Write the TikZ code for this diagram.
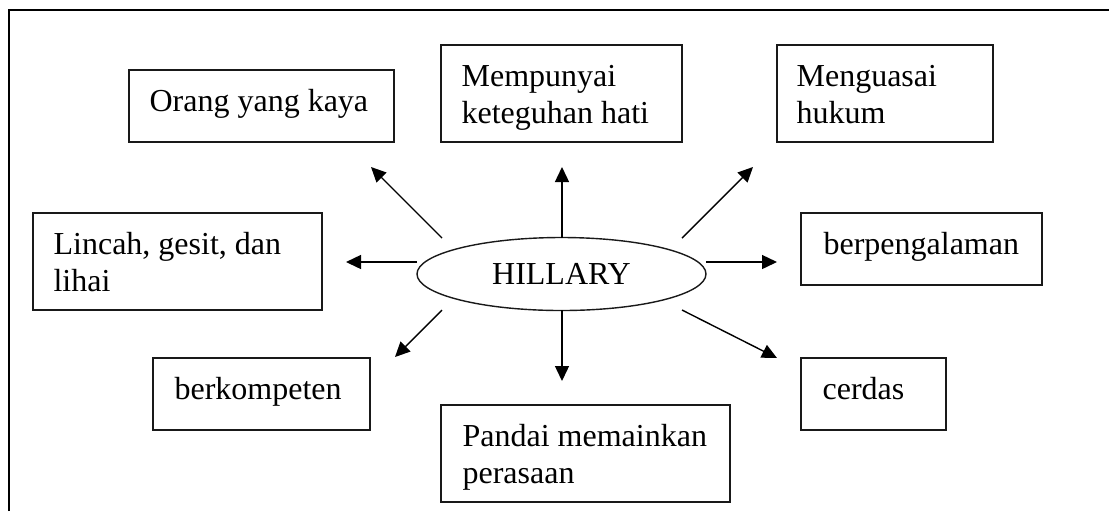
\documentclass[tikz,border=0pt]{standalone}
\usepackage{fontspec}
\setmainfont{Liberation Serif}
\usetikzlibrary{arrows.meta,shapes.geometric}
\begin{document}
\begin{tikzpicture}[x=0.5pt,y=-0.5pt,
  font=\fontsize{16}{18.5}\selectfont,
  box/.style={draw=black!90,line width=0.8pt,rectangle,inner sep=0pt},
  txt/.style={anchor=base west,inner sep=0pt,align=left},
  arr/.style={line width=0.7pt,-{Triangle[length=7.5pt,width=7pt]}},
  frame/.style={line width=0.7pt}]
\useasboundingbox (0,0) rectangle (1109,511);
\coordinate (fb) at (9,511);
\coordinate (ftl) at (9,10);
\coordinate (fr) at (1109,10);
\draw[frame] (fb) -- (ftl) -- (fr);

\node[box,minimum width=132.5pt,minimum height=36pt] (orang) at (261.5,106) {};
\node[box,minimum width=120.5pt,minimum height=48.5pt] (mem) at (561.5,93.5) {};
\node[box,minimum width=108pt,minimum height=48.5pt] (meng) at (885,93.5) {};
\node[box,minimum width=144.5pt,minimum height=48.5pt] (lin) at (177.5,261.5) {};
\node[box,minimum width=120.5pt,minimum height=36pt] (berp) at (921.5,249) {};
\node[box,minimum width=108.5pt,minimum height=36pt] (berk) at (261.5,394) {};
\node[box,minimum width=144.5pt,minimum height=48.5pt] (pan) at (585.5,453.5) {};
\node[box,minimum width=72.5pt,minimum height=36pt] (cer) at (873.5,394) {};

\node[txt] (torang) at ([shift={(21,42)}]orang.north west) {Orang yang kaya};
\node[txt] (tmem) at ([shift={(21,79)}]mem.north west) {Mempunyai\\keteguhan hati};
\node[txt] (tmeng) at ([shift={(20,79)}]meng.north west) {Menguasai\\hukum};
\node[txt] (tlin) at ([shift={(21,79)}]lin.north west) {Lincah, gesit, dan\\lihai};
\node[txt] (tberp) at ([shift={(23,42)}]berp.north west) {berpengalaman};
\node[txt] (tberk) at ([shift={(22,42)}]berk.north west) {berkompeten};
\node[txt] (tpan) at ([shift={(22,79)}]pan.north west) {Pandai memainkan\\perasaan};
\node[txt] (tcer) at ([shift={(22,42)}]cer.north west) {cerdas};

\node[draw=black!90,line width=0.7pt,ellipse,minimum width=144.5pt,minimum height=36.5pt,inner sep=0pt] (hil) at (561.5,274) {HILLARY};

\coordinate (s1) at (442,238); \coordinate (e1) at (371,167);
\coordinate (s2) at (562,238); \coordinate (e2) at (562,167);
\coordinate (s3) at (682,238); \coordinate (e3) at (753,167);
\coordinate (s4) at (706,262); \coordinate (e4) at (777,262);
\coordinate (s5) at (417,262); \coordinate (e5) at (346,262);
\coordinate (s6) at (442,310); \coordinate (e6) at (395,357);
\coordinate (s7) at (562,310); \coordinate (e7) at (562,381);
\coordinate (s8) at (682,310); \coordinate (e8) at (777,358);
\draw[arr] (s1) -- (e1);
\draw[arr] (s2) -- (e2);
\draw[arr] (s3) -- (e3);
\draw[arr] (s4) -- (e4);
\draw[arr] (s5) -- (e5);
\draw[arr] (s6) -- (e6);
\draw[arr] (s7) -- (e7);
\draw[arr] (s8) -- (e8);
\end{tikzpicture}
\end{document}
